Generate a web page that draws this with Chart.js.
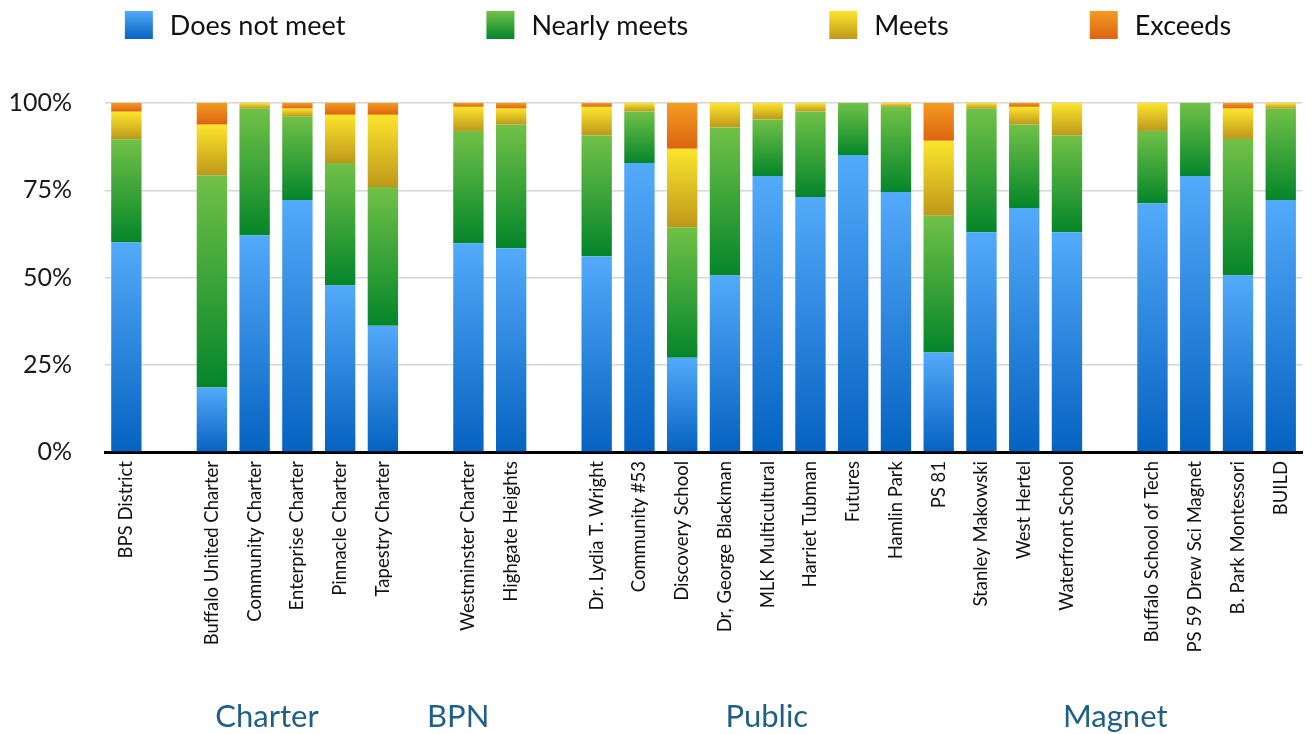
<!DOCTYPE html>
<html lang="en">
<head>
<meta charset="UTF-8">
<title>Proficiency by School</title>
<script src="https://cdn.jsdelivr.net/npm/chart.js"></script>
<style>
  html, body { margin: 0; padding: 0; background: #fff; }
  #wrap { width: 1312px; height: 734px; position: relative; }
</style>
</head>
<body>
<div id="wrap"><canvas id="chart"></canvas></div>
<script>
// blank names are the spacer columns between school groups
const schools = [
  'BPS District', '',
  'Buffalo United Charter', 'Community Charter', 'Enterprise Charter', 'Pinnacle Charter', 'Tapestry Charter', '',
  'Westminster Charter', 'Highgate Heights', '',
  'Dr. Lydia T. Wright', 'Community #53', 'Discovery School', 'Dr, George Blackman', 'MLK Multicultural',
  'Harriet Tubman', 'Futures', 'Hamlin Park', 'PS 81', 'Stanley Makowski', 'West Hertel', 'Waterfront School', '',
  'Buffalo School of Tech', 'PS 59 Drew Sci Magnet', 'B. Park Montessori', 'BUILD'
];
const doesNotMeet = [60.0, null, 18.5, 62.1, 72.2, 47.7, 36.2, null, 59.8, 58.4, null,
  56.1, 82.8, 27.0, 50.6, 79.1, 73.1, 85.1, 74.5, 28.5, 63.0, 69.9, 63.0, null, 71.3, 79.1, 50.6, 72.2];
const nearlyMeets = [29.6, null, 60.7, 36.3, 23.9, 35.1, 39.7, null, 32.2, 35.4, null,
  34.6, 14.8, 37.4, 42.4, 16.2, 24.5, 14.9, 24.4, 39.2, 35.4, 23.9, 27.7, null, 20.7, 20.9, 39.1, 26.2];
const meets = [7.9, null, 14.6, 1.6, 2.3, 13.8, 20.7, null, 6.9, 4.6, null,
  8.2, 2.4, 22.5, 7.0, 4.7, 2.4, 0, 1.1, 21.5, 1.6, 5.1, 9.3, null, 8.0, 0, 8.7, 1.6];
const exceeds = [2.5, null, 6.2, 0, 1.6, 3.4, 3.4, null, 1.1, 1.6, null,
  1.1, 0, 13.1, 0, 0, 0, 0, 0, 10.8, 0, 1.1, 0, null, 0, 0, 1.6, 0];
const seriesNames = ['Does not meet', 'Nearly meets', 'Meets', 'Exceeds'];
const yTicks = [0, 25, 50, 75, 100];
const groupNames = ['Charter', 'BPN', 'Public', 'Magnet'];
const groupAnchors = [3.29, 7.76, 14.98, 23.13]; // category index under which each caption sits

// light (top) and dark (bottom) ends of each series gradient
const palette = [
  ['#54aafa', '#0562c0'],
  ['#71c147', '#04852a'],
  ['#fce52c', '#be981b'],
  ['#f39c20', '#dd6310']
];

Chart.defaults.font.family = 'Lato, "Open Sans", sans-serif';
Chart.defaults.color = '#111';

function segmentFill(context) {
  const {chart, datasetIndex, dataIndex} = context;
  const [light, dark] = palette[datasetIndex];
  const y = chart.scales.y;
  if (dataIndex === undefined || !chart.chartArea || !y) return dark;
  const sets = chart.data.datasets;
  let start = 0;
  for (let i = 0; i < datasetIndex; i++) start += sets[i].data[dataIndex] || 0;
  const end = start + (sets[datasetIndex].data[dataIndex] || 0);
  const top = y.getPixelForValue(end);
  const bottom = y.getPixelForValue(start);
  if (!(bottom > top)) return dark;
  const g = chart.ctx.createLinearGradient(0, top, 0, bottom);
  g.addColorStop(0, light);
  g.addColorStop(1, dark);
  return g;
}

const legendRow = {
  id: 'legendRow',
  afterDraw(chart) {
    const ctx = chart.ctx;
    const box = 28, textGap = 17, itemGap = 141, cy = 25;
    ctx.save();
    ctx.font = '27px Lato';
    const items = chart.data.datasets.map((ds, i) => ({
      label: ds.label, w: ctx.measureText(ds.label).width, colors: palette[i]
    }));
    const total = items.reduce((s, it) => s + box + textGap + it.w, 0) + itemGap * (items.length - 1);
    let x = chart.width / 2 + 22 - total / 2;
    items.forEach(it => {
      const g = ctx.createLinearGradient(0, cy - box / 2, 0, cy + box / 2);
      g.addColorStop(0, it.colors[0]);
      g.addColorStop(1, it.colors[1]);
      ctx.fillStyle = g;
      ctx.fillRect(x, cy - box / 2, box, box);
      ctx.fillStyle = '#111';
      ctx.textBaseline = 'middle';
      ctx.textAlign = 'left';
      ctx.fillText(it.label, x + box + textGap, cy + 1);
      x += box + textGap + it.w + itemGap;
    });
    ctx.restore();
  }
};

const groupCaptions = {
  id: 'groupCaptions',
  afterDraw(chart) {
    const ctx = chart.ctx;
    const xs = chart.scales.x;
    ctx.save();
    ctx.font = '31px Lato';
    ctx.fillStyle = '#1f5f86';
    ctx.textAlign = 'center';
    ctx.textBaseline = 'alphabetic';
    groupNames.forEach((name, i) => {
      ctx.fillText(name, xs.getPixelForValue(groupAnchors[i]), 727);
    });
    ctx.restore();
  }
};

const series = [doesNotMeet, nearlyMeets, meets, exceeds];

new Chart(document.getElementById('chart').getContext('2d'), {
  type: 'bar',
  data: {
    labels: schools,
    datasets: series.map((values, i) => ({
      label: seriesNames[i],
      data: values,
      backgroundColor: segmentFill,
      borderWidth: 0,
      barPercentage: 0.71,
      categoryPercentage: 1
    }))
  },
  options: {
    responsive: true,
    maintainAspectRatio: false,
    animation: false,
    layout: { padding: { top: 103, right: 3, left: 0, bottom: 0 } },
    plugins: {
      legend: { display: false },
      tooltip: { enabled: false }
    },
    scales: {
      x: {
        stacked: true,
        grid: { display: false, drawTicks: false },
        border: { color: '#000', width: 3 },
        ticks: {
          autoSkip: false,
          maxRotation: 90,
          minRotation: 90,
          padding: 9,
          color: '#111',
          font: { size: 18.5 }
        },
        afterFit(scale) { scale.height = 282; }
      },
      y: {
        stacked: true,
        min: 0,
        max: 100,
        grid: { color: '#d6d6d6', lineWidth: 1.5, drawTicks: false },
        border: { display: false },
        ticks: {
          padding: 33,
          color: '#1a1a1a',
          font: { size: 25 },
          callback: v => v + '%'
        },
        afterBuildTicks(scale) { scale.ticks = yTicks.map(v => ({ value: v })); },
        afterFit(scale) { scale.width = 105; }
      }
    }
  },
  plugins: [legendRow, groupCaptions]
});
</script>
</body>
</html>
